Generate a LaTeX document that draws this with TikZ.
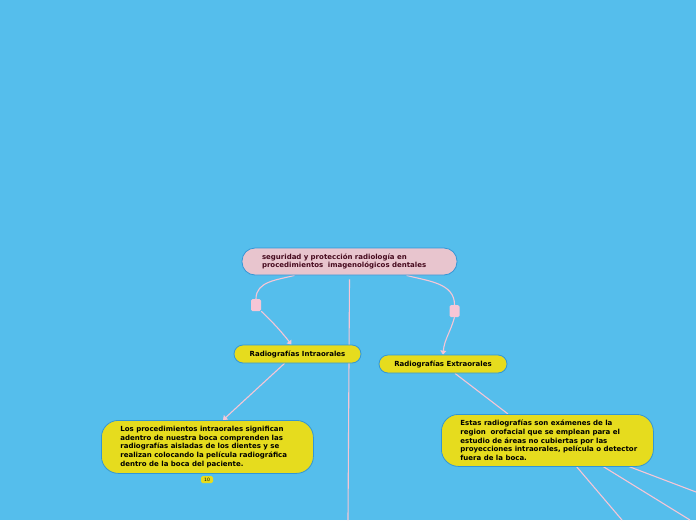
\documentclass[tikz,border=0pt]{standalone}
\usepackage{fontspec}
\setmainfont{DejaVu Sans}
\usetikzlibrary{arrows.meta,backgrounds}

\definecolor{skyblue}{RGB}{85,190,236}
\definecolor{rootpink}{RGB}{232,197,206}
\definecolor{boxyellow}{RGB}{230,220,30}
\definecolor{edgeblue}{RGB}{50,150,215}
\definecolor{linkpink}{RGB}{246,198,214}
\definecolor{roottext}{RGB}{70,10,30}

\tikzset{
  topic/.style={draw=edgeblue, line width=0.8pt, fill=boxyellow, font=\bfseries\fontsize{7}{8.6}\selectfont, text=black},
  bigtopic/.style={topic, rounded corners=17pt, align=left, anchor=north west, inner xsep=0pt, inner ysep=0pt},
  marker/.style={fill=linkpink, rounded corners=1.5pt, minimum width=10pt, minimum height=12pt, inner sep=0pt},
  link/.style={draw=linkpink, line width=1.1pt},
  arrowlink/.style={link, -{Triangle[width=6pt,length=4pt]}}
}

\begin{document}
\begin{tikzpicture}[x=1pt,y=1pt]

    % Canvas
    \useasboundingbox (0,0) rectangle (696,-520);

    % Central topic
    \node[draw=edgeblue, line width=0.8pt, fill=rootpink, rounded corners=13pt,
          minimum height=27pt, text width=175pt, inner xsep=20pt, text=roottext,
          font=\bfseries\fontsize{7}{8.4}\selectfont, align=left] (root) at (349.5,-261.5)
        {seguridad y protección radiología en\\procedimientos\ \ imagenológicos dentales};

    % Main topics
    \node[topic, rounded corners=9pt, minimum width=127pt, minimum height=18pt] (intra) at (297.5,-354) {Radiografías Intraorales};
    \node[topic, rounded corners=9pt, minimum width=128pt, minimum height=18pt] (extra) at (443,-364) {Radiografías Extraorales};

    % Subtopics
    \node[bigtopic] (intratext) at (101,-420)
        {\begin{minipage}[c][53pt][c]{212pt}\raggedright\leftskip=19pt
         Los procedimientos intraorales significan\\
         adentro de nuestra boca comprenden las\\
         radiografías aisladas de los dientes y se\\
         realizan colocando la película radiográfica\\
         dentro de la boca del paciente.\end{minipage}};
    \node[bigtopic] (extratext) at (441,-414)
        {\begin{minipage}[c][52pt][c]{212pt}\raggedright\leftskip=19pt
         Estas radiografías son exámenes de la\\
         region\ \ orofacial que se emplean para el\\
         estudio de áreas no cubiertas por las\\
         proyecciones intraorales, película o detector\\
         fuera de la boca.\end{minipage}};

    % Badge
    \node[fill=boxyellow, rounded corners=1.5pt, minimum width=12pt, minimum height=7pt, inner sep=0pt,
          font=\fontsize{4.5}{4.5}\selectfont] (badge) at (207,-479.5) {10};

    % Relationship markers
    \node[marker] (m1) at (256,-305) {};
    \node[marker] (m2) at (454.5,-311) {};

    % Free ends
    \coordinate (down) at (348,-520);
    \coordinate (out1) at (622,-520);
    \coordinate (out2) at (690,-520);
    \coordinate (out3) at (696,-492);

    \begin{scope}[on background layer]
    \fill[skyblue] (0,0) rectangle (696,-520);

    % Connectors
    \draw[link] ([xshift=-55pt]root.south) to[out=195,in=90] (m1.north);
    \draw[arrowlink] (m1.south east) to[bend left=4] ([xshift=-6pt]intra.north);
    \draw[link] ([xshift=57pt]root.south) to[out=-15,in=90] (m2.north);
    \draw[arrowlink] (m2.south) to[out=-105,in=85] (extra.north);
    \draw[link] ([yshift=-4pt]root.south) -- (down);
    \draw[arrowlink] ([xshift=-13pt]intra.south) -- ([xshift=122pt]intratext.north west);
    \draw[link] ([xshift=12pt]extra.south) -- ([xshift=67pt]extratext.north west);
    \draw[link] ([xshift=134pt,yshift=2pt]extratext.south west) -- (out1);
    \draw[link] ([xshift=161pt,yshift=1pt]extratext.south west) -- (out2);
    \draw[link] ([xshift=186pt,yshift=1pt]extratext.south west) -- (out3);
    \end{scope}

\end{tikzpicture}
\end{document}
